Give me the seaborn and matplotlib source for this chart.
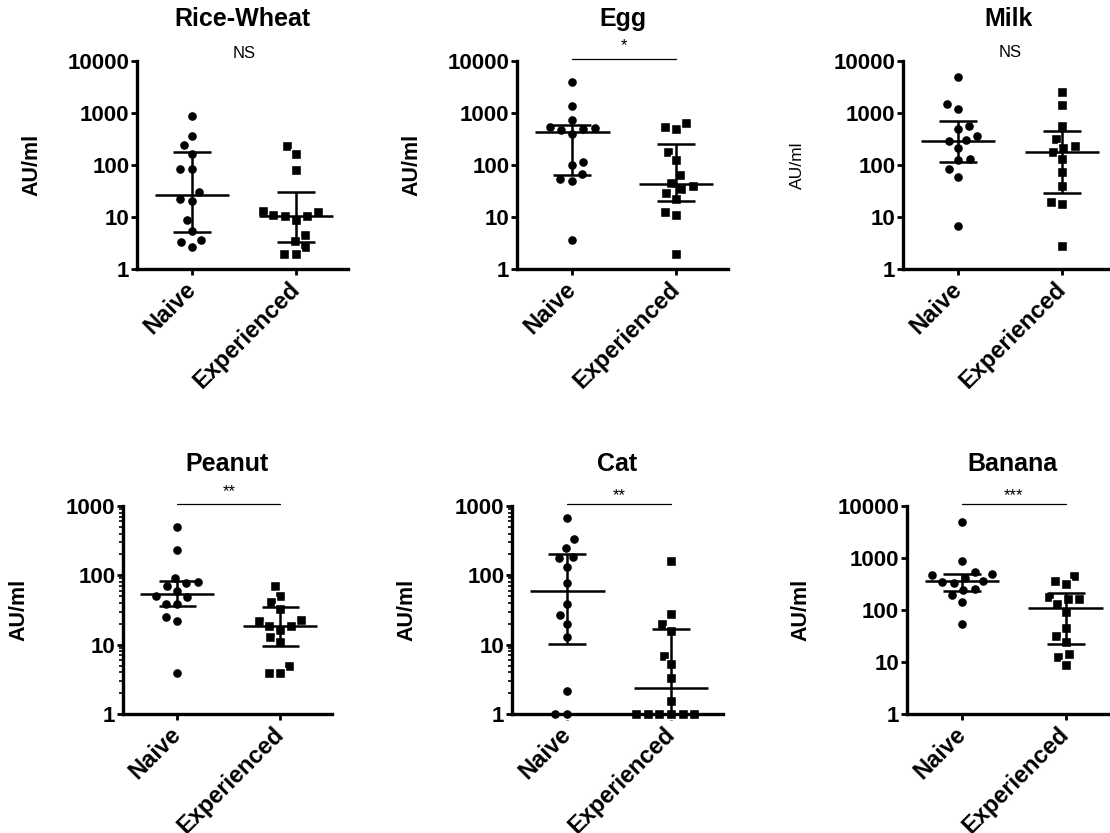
import matplotlib

matplotlib.use("Agg")

import matplotlib.pyplot as plt
import matplotlib.transforms as mtransforms
import numpy as np
import pandas as pd
import seaborn as sns
from matplotlib.ticker import FixedLocator, FuncFormatter, LogLocator, NullFormatter

GROUPS = ["Naive", "Experienced"]
PANELS = ["Rice-Wheat", "Egg", "Milk", "Peanut", "Cat", "Banana"]

# AU/ml values
RICE_WHEAT_NAIVE = [863, 366, 239, 163, 84, 84, 30, 20, 22, 8.6, 5.5, 3.7, 3.3, 2.7]
RICE_WHEAT_EXP = [229, 165, 80, 12.7, 10.8, 8.9, 10.6, 10.6, 13.2, 4.5, 3.45, 2.7, 1.97, 1.97]
EGG_NAIVE = [3890, 1364, 745, 492, 464, 507, 546, 389, 101, 112, 68, 55, 50, 3.56]
EGG_EXP = [530, 485, 642, 175, 123, 63, 46, 35, 39, 29, 22.5, 12.7, 10.8, 1.97]
MILK_NAIVE = [5000, 1490, 1178, 486, 562, 366, 303, 289, 210, 125, 132, 83, 60, 6.6]
MILK_EXP = [2570, 1426, 571, 316, 215, 229, 175, 130, 75, 39, 19.7, 17.5, 2.8]
PEANUT_NAIVE = [492, 235, 92, 80, 77, 69, 59, 48, 50, 39, 39, 25, 22, 3.86]
PEANUT_EXP = [69, 50, 41, 33, 23, 22, 18.6, 18.6, 16.3, 12.8, 10.9, 5.0, 3.86, 3.86]
CAT_NAIVE = [664, 330, 250, 178, 184, 133, 78, 39, 27, 20, 13, 2.15, 1, 1]
CAT_EXP = [163, 28, 20, 15.7, 6.9, 5.2, 3.27, 1.54, 1, 1, 1, 1, 1, 1]
BANANA_NAIVE = [4920, 863, 530, 478, 492, 412, 350, 336, 361, 250, 194, 243, 145, 54]
BANANA_EXP = [451, 316, 361, 160, 180, 160, 129, 93, 46, 31.6, 24.5, 14.3, 12.6, 8.75]

NAIVE = [RICE_WHEAT_NAIVE, EGG_NAIVE, MILK_NAIVE, PEANUT_NAIVE, CAT_NAIVE, BANANA_NAIVE]
EXPERIENCED = [RICE_WHEAT_EXP, EGG_EXP, MILK_EXP, PEANUT_EXP, CAT_EXP, BANANA_EXP]

SIGNIF = ["NS", "*", "NS", "**", "**", "***"]
SIG_BAR = [False, True, False, True, True, True]
Y_TICKS = [
    [1, 10, 100, 1000, 10000],
    [1, 10, 100, 1000, 10000],
    [1, 10, 100, 1000, 10000],
    [1, 10, 100, 1000],
    [1, 10, 100, 1000],
    [1, 10, 100, 1000, 10000],
]

AXES_POS = [
    (0.1234, 0.677, 0.190, 0.2497),
    (0.4658, 0.677, 0.190, 0.2497),
    (0.8135, 0.677, 0.190, 0.2497),
    (0.1108, 0.1429, 0.188, 0.2497),
    (0.4613, 0.1429, 0.190, 0.2497),
    (0.8170, 0.1429, 0.190, 0.2497),
]
SIG_TEXT_Y = [1.035, 1.075, 1.04, 1.07, 1.048, 1.052]
YLABEL_BOLD = [True, True, False, True, True, True]


def setup_style() -> None:
    sns.set_theme(style="ticks")
    plt.rcParams["font.family"] = ["Liberation Sans", "DejaVu Sans"]
    plt.rcParams["axes.linewidth"] = 2.4
    for key in ["text.color", "axes.labelcolor", "xtick.color", "ytick.color", "axes.edgecolor"]:
        plt.rcParams[key] = "black"


def draw_panel(ax, idx: int) -> None:
    rows = [(GROUPS[0], v) for v in NAIVE[idx]] + [(GROUPS[1], v) for v in EXPERIENCED[idx]]
    data = pd.DataFrame(rows, columns=["group", "value"])
    y_top = Y_TICKS[idx][-1]

    ax.set_yscale("log")
    ax.set_ylim(1, y_top)
    ax.set_xlim(-0.53, 1.5)
    # white halo widens the swarm spacing a little, like Prism does
    for group, marker, size in [(GROUPS[0], "o", 7.2), (GROUPS[1], "s", 7.0)]:
        sns.swarmplot(
            data=data[data["group"] == group], x="group", y="value", order=GROUPS,
            marker=marker, color="black", size=size, linewidth=1.0, edgecolor="white",
            warn_thresh=1.0, ax=ax,
        )
    for coll in ax.collections:
        coll.set_clip_on(False)
        coll.set_zorder(1)

    # median with interquartile range
    for pos, values in enumerate([NAIVE[idx], EXPERIENCED[idx]]):
        q1, med, q3 = np.percentile(values, [25, 50, 75], method="weibull")
        ax.hlines(med, pos - 0.36, pos + 0.36, color="black", lw=1.8, zorder=5, clip_on=False)
        ax.hlines([q1, q3], pos - 0.18, pos + 0.18, color="black", lw=1.8, zorder=5, clip_on=False)
        ax.vlines(pos, q1, q3, color="black", lw=1.8, zorder=5, clip_on=False)

    ax.set_xlim(-0.53, 1.5)
    ax.set_ylim(1, y_top)
    ax.yaxis.set_major_locator(FixedLocator(Y_TICKS[idx]))
    ax.yaxis.set_major_formatter(FuncFormatter(lambda v, _: f"{v:g}"))
    ax.yaxis.set_minor_locator(LogLocator(base=10, subs=range(2, 10)))
    ax.yaxis.set_minor_formatter(NullFormatter())
    sns.despine(ax=ax)

    ax.tick_params(axis="y", which="major", length=4, width=2, pad=1.5, labelsize=16)
    ax.tick_params(axis="y", which="minor", length=3, width=1.2)
    ax.tick_params(axis="x", which="major", length=4, width=2, pad=8)
    for label in ax.get_yticklabels():
        label.set_fontweight("bold")
    plt.setp(ax.get_xticklabels(), rotation=45, ha="right", va="center", rotation_mode="anchor",
             fontsize=17, fontweight="bold")

    ax.set_xlabel("")
    if YLABEL_BOLD[idx]:
        ax.set_ylabel("AU/ml", fontsize=15.5, fontweight="bold", va="center")
    else:
        ax.set_ylabel("AU/ml", fontsize=12.5, va="center")
    ax.yaxis.set_label_coords(-0.5, 0.5)

    ax.set_title(PANELS[idx], fontsize=18, fontweight="bold", y=1.2, va="center", pad=0)

    trans = mtransforms.blended_transform_factory(ax.transData, ax.transAxes)
    if SIG_BAR[idx]:
        ax.plot([0, 1], [1.008, 1.008], color="black", lw=0.9, transform=trans, clip_on=False)
    ax.text(0.5, SIG_TEXT_Y[idx], SIGNIF[idx], transform=trans, ha="center", va="center", fontsize=12)


def main() -> int:
    setup_style()
    fig = plt.figure(figsize=(11.1, 8.33), dpi=100)
    for idx, pos in enumerate(AXES_POS):
        ax = fig.add_axes(pos)
        draw_panel(ax, idx)
    fig.savefig("out.png", dpi=100)
    plt.close(fig)
    return 0


if __name__ == "__main__":
    raise SystemExit(main())
